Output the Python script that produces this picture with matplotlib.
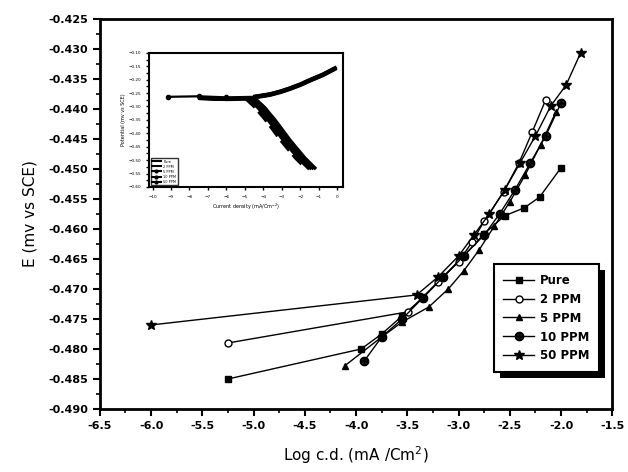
import matplotlib
matplotlib.use('Agg')
import matplotlib.pyplot as plt
from matplotlib.ticker import MultipleLocator
from matplotlib.patches import Rectangle

# main Tafel data
pure_x = [-5.25, -3.95, -3.75, -3.55, -3.35, -3.15, -2.95, -2.75, -2.55, -2.36, -2.21, -2.0]
pure_y = [-0.485, -0.480, -0.4775, -0.4745, -0.4715, -0.468, -0.4645, -0.4608, -0.4578, -0.4565, -0.4547, -0.4498]

ppm2_x = [-5.25, -3.49, -3.2, -3.0, -2.87, -2.75, -2.56, -2.41, -2.28, -2.15]
ppm2_y = [-0.479, -0.4738, -0.4688, -0.4655, -0.4622, -0.4587, -0.4538, -0.449, -0.4438, -0.4385]

ppm5_x = [-4.11, -3.75, -3.55, -3.29, -3.1, -2.95, -2.8, -2.65, -2.5, -2.35, -2.2, -2.05]
ppm5_y = [-0.4828, -0.478, -0.4755, -0.473, -0.470, -0.467, -0.4635, -0.4595, -0.4555, -0.451, -0.446, -0.4405]

ppm10_x = [-3.92, -3.75, -3.55, -3.35, -3.15, -2.95, -2.75, -2.6, -2.45, -2.3, -2.15, -2.0]
ppm10_y = [-0.482, -0.478, -0.475, -0.4715, -0.468, -0.4645, -0.461, -0.4575, -0.4535, -0.449, -0.4445, -0.439]

ppm50_x = [-6.0, -3.41, -3.2, -3.0, -2.85, -2.7, -2.55, -2.4, -2.25, -2.1, -1.95, -1.81]
ppm50_y = [-0.476, -0.471, -0.468, -0.4645, -0.461, -0.4575, -0.4535, -0.449, -0.4445, -0.4395, -0.436, -0.4307]

series_labels = ['Pure', '2 PPM', '5 PPM', '10 PPM', '50 PPM']

# inset (polarisation curve)
inset_flat_x = [-9.17, -7.5, -6.0, -4.46]
inset_flat_y = [-0.264, -0.262, -0.266, -0.264]
inset_anodic_x = [-4.46, -3.65, -3.1, -2.57, -2.0, -1.49, -0.8, -0.13]
inset_anodic_y = [-0.262, -0.253, -0.243, -0.231, -0.216, -0.200, -0.180, -0.156]
inset_cathodic_x = [-4.46, -3.92, -3.65, -3.38, -3.0, -2.57, -2.15, -1.76, -1.22]
inset_cathodic_y = [-0.270, -0.305, -0.328, -0.350, -0.385, -0.425, -0.460, -0.492, -0.529]
inset_shift = [0.0, 0.12, 0.24, 0.36, 0.5]
inset_start = [-9.17, -7.0, -6.6, -6.2, -5.8]

plt.rcParams['font.family'] = ['DejaVu Sans']
fig = plt.figure(figsize=(6.28, 4.72), dpi=100)
ax = fig.add_axes([0.159, 0.1335, 0.816, 0.8265])

style = dict(color='black', linewidth=1.0, markersize=5)
ax.plot(pure_x, pure_y, marker='s', label=series_labels[0], **style)
ax.plot(ppm2_x, ppm2_y, marker='o', mfc='white', label=series_labels[1], **style)
ax.plot(ppm5_x, ppm5_y, marker='^', label=series_labels[2], **style)
ax.plot(ppm10_x, ppm10_y, marker=r'$\oplus$', label=series_labels[3], color='black', linewidth=1.0, markersize=6)
ax.plot(ppm50_x, ppm50_y, marker='*', label=series_labels[4], color='black', linewidth=1.0, markersize=7)

ax.set_xlim(-6.5, -1.5)
ax.set_ylim(-0.490, -0.425)
ax.xaxis.set_major_locator(MultipleLocator(0.5))
ax.xaxis.set_minor_locator(MultipleLocator(0.25))
ax.yaxis.set_major_locator(MultipleLocator(0.005))
ax.yaxis.set_minor_locator(MultipleLocator(0.0025))
ax.xaxis.set_major_formatter(matplotlib.ticker.FormatStrFormatter('%.1f'))
ax.yaxis.set_major_formatter(matplotlib.ticker.FormatStrFormatter('%.3f'))
ax.tick_params(which='major', direction='out', length=5, width=1.5, labelsize=8)
ax.tick_params(which='minor', direction='out', length=3, width=1.2)
for lab in ax.get_xticklabels() + ax.get_yticklabels():
    lab.set_fontweight('bold')
for sp in ax.spines.values():
    sp.set_linewidth(2)

ax.set_xlabel('Log c.d. (mA /Cm$^2$)', fontsize=11, labelpad=10)
ax.set_ylabel('E (mv vs SCE)', fontsize=11, labelpad=8)

leg = ax.legend(loc='lower right', bbox_to_anchor=(0.985, 0.08), frameon=True, shadow=False,
                fancybox=False, edgecolor='black', facecolor='white', framealpha=1,
                fontsize=8.5, handlelength=2.6, borderpad=0.8, labelspacing=0.5,
                handletextpad=0.5)
leg.get_frame().set_linewidth(1.5)
leg.set_zorder(10)
for t in leg.get_texts():
    t.set_fontweight('bold')

# solid drop shadow behind the legend
fig.canvas.draw()
bb = leg.get_window_extent().transformed(ax.transAxes.inverted())
shadow = Rectangle((bb.x0 + 0.012, bb.y0 - 0.015), bb.width, bb.height, transform=ax.transAxes,
                   facecolor='black', edgecolor='none', zorder=9)
ax.add_patch(shadow)

# inset
ins = fig.add_axes([0.237, 0.604, 0.309, 0.284])
for k, s in enumerate(inset_shift):
    ins.plot([inset_start[k]] + inset_flat_x[1:], [v - s * 0.02 for v in inset_flat_y], color='black',
             linewidth=1.6, marker='o' if k == 0 else None, markersize=3)
    ins.plot(inset_anodic_x, [v - s * 0.01 for v in inset_anodic_y], color='black', linewidth=2.5)
    ins.plot([v - s for v in inset_cathodic_x], inset_cathodic_y, color='black', linewidth=2.5,
             linestyle='-' if k < 4 else '--')
ins.set_xlim(-10.2, 0.3)
ins.set_ylim(-0.60, -0.10)
ins.xaxis.set_major_locator(MultipleLocator(1))
ins.yaxis.set_major_locator(MultipleLocator(0.05))
ins.yaxis.set_minor_locator(MultipleLocator(0.025))
ins.tick_params(which='both', direction='out', length=2, width=1, labelsize=3, colors='black')
ins.set_xlabel('Current density (mA/Cm$^{-2}$)', fontsize=3.5, labelpad=2)
ins.set_ylabel('Potential (mv vs SCE)', fontsize=3.5, labelpad=2)
for sp in ins.spines.values():
    sp.set_linewidth(1.5)
for k in range(5):
    ins.plot([], [], color='black', linewidth=1.5, marker='o' if k > 1 else None, markersize=2,
             label=series_labels[k])
h, l = ins.get_legend_handles_labels()
ins.legend(h[-5:], l[-5:], loc='lower left', fontsize=2.5, frameon=True, fancybox=False,
           edgecolor='black', handlelength=2.5, labelspacing=0.3, borderpad=0.4)

fig.savefig('out.png', dpi=100)
